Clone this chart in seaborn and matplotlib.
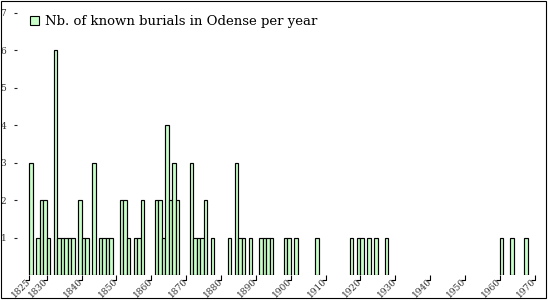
import numpy as np
import pandas as pd
import matplotlib
matplotlib.use('Agg')
import matplotlib.pyplot as plt
from matplotlib.patches import Rectangle, Patch
from matplotlib.markers import MarkerStyle
from matplotlib.path import Path
import seaborn as sns

# burials per year (years without bars had none recorded)
years = [1825, 1827, 1828, 1829, 1830, 1832, 1833, 1834, 1835, 1836, 1837,
         1839, 1840, 1841, 1843, 1845, 1846, 1847, 1848, 1851, 1852, 1853,
         1855, 1856, 1857, 1861, 1862, 1863, 1864, 1865, 1866, 1867,
         1871, 1872, 1873, 1874, 1875, 1877, 1882, 1884, 1885, 1886, 1888,
         1891, 1892, 1893, 1894, 1898, 1899, 1901, 1907,
         1917, 1919, 1920, 1922, 1924, 1927, 1960, 1963, 1967]
burials = [3, 1, 2, 2, 1, 6, 1, 1, 1, 1, 1,
           2, 1, 1, 3, 1, 1, 1, 1, 2, 2, 1,
           1, 1, 2, 2, 2, 1, 4, 2, 3, 2,
           3, 1, 1, 1, 2, 1, 1, 3, 1, 1, 1,
           1, 1, 1, 1, 1, 1, 1, 1,
           1, 1, 1, 1, 1, 1, 1, 1, 1]
tick_years = [1825, 1830, 1840, 1850, 1860, 1870, 1880, 1890, 1900,
              1910, 1920, 1930, 1940, 1950, 1960, 1970]
y_ticks = [1, 2, 3, 4, 5, 6, 7]
legend_label = 'Nb. of known burials in Odense per year'

bar_color = '#c8ffc8'

df = pd.DataFrame({'year': years, 'burials': burials})

sns.set_style('white')
plt.rcParams['font.family'] = ['DejaVu Serif']

fig = plt.figure(figsize=(5.5, 3), dpi=100)
ax = fig.add_axes([17 / 550, 24.7 / 300, 528 / 550, 274.3 / 300])

sns.histplot(data=df, x='year', weights='burials', binwidth=1,
             binrange=(1825, 1971), color=bar_color, edgecolor='black',
             linewidth=0.85, alpha=1, ax=ax)
# drop empty bins so no outline is drawn along the baseline
for p in list(ax.patches):
    if p.get_height() == 0:
        p.remove()

ax.set_xlim(1821.47, 1972.98)
ax.set_ylim(0, 7.31)
ax.set_xlabel('')
ax.set_ylabel('')
for s in ax.spines.values():
    s.set_visible(False)

ax.set_yticks(y_ticks)
ax.set_yticklabels([str(v) for v in y_ticks])
ax.tick_params(axis='y', left=True, direction='out', length=2.2, width=0.8,
               pad=5.5, labelsize=6.5, labelcolor='#333333')

ax.set_xticks(tick_years)
ax.set_xticklabels([str(v) for v in tick_years], rotation=45, ha='right',
                   va='center', rotation_mode='anchor')
ax.tick_params(axis='x', bottom=True, length=0, labelsize=6.5, pad=3.6,
               labelcolor='#333333')
# ticks drawn as a small hook below the baseline
hook = MarkerStyle(Path([(0, 0), (0, -1), (-0.8, -1)]), fillstyle='none')
for t in ax.xaxis.get_major_ticks():
    t.tick1line.set_marker(hook)
    t.tick1line.set_markersize(7.2)
    t.tick1line.set_markeredgewidth(0.8)
    t.tick1line.set_markeredgecolor('black')
    t.tick1line.set_markerfacecolor('none')

ax.legend(handles=[Patch(facecolor=bar_color, edgecolor='black', linewidth=0.8)],
          labels=[legend_label], loc='upper left',
          bbox_to_anchor=(30 / 550, 1 - 15 / 300), bbox_transform=fig.transFigure,
          frameon=False, borderpad=0, borderaxespad=0, fontsize=9.5,
          handlelength=0.7, handleheight=0.7, handletextpad=0.45,
          labelcolor='black')

fig.add_artist(Rectangle((0.5 / 550, 2 / 300), 545.5 / 550, 297.5 / 300,
                         transform=fig.transFigure, fill=False,
                         edgecolor='black', linewidth=0.8))

fig.savefig('out.png', dpi=100)
plt.close(fig)
